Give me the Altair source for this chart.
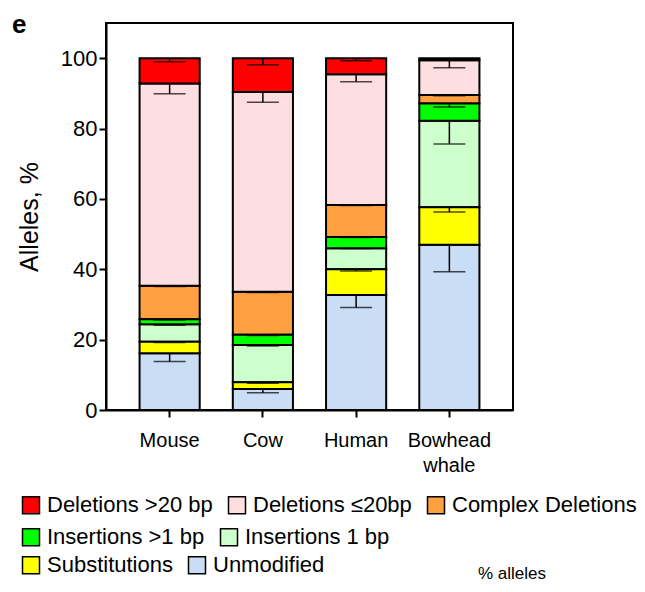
import altair as alt
import pandas as pd

species = ["Mouse", "Cow", "Human", "Bowhead whale"]

# categories from bottom of stack to top
categories = [
    "Unmodified",
    "Substitutions",
    "Insertions 1 bp",
    "Insertions >1 bp",
    "Complex Deletions",
    "Deletions ≤20bp",
    "Deletions >20 bp",
]

unmodified = [16.1, 6.0, 32.7, 47.0]
substitutions = [3.3, 1.9, 7.3, 10.6]
insertions_1bp = [5.0, 10.6, 6.0, 24.6]
insertions_gt1 = [1.4, 2.9, 3.2, 4.9]
complex_del = [9.5, 12.2, 9.1, 2.4]
deletions_le20 = [57.5, 56.8, 37.1, 9.9]
deletions_gt20 = [7.2, 9.6, 4.6, 0.6]

unmodified_err = [2.3, 1.1, 3.6, 7.7]
substitutions_err = [0.2, 0.3, 0.5, 1.3]
insertions_1bp_err = [0.3, 0.3, 0.1, 6.6]
insertions_gt1_err = [0.2, 0.2, 0.2, 1.0]
complex_del_err = [0.2, 0.2, 0.2, 0.2]
deletions_le20_err = [2.9, 2.9, 2.1, 2.1]
deletions_gt20_err = [1.0, 1.9, 0.7, 0.2]

values = [unmodified, substitutions, insertions_1bp, insertions_gt1,
          complex_del, deletions_le20, deletions_gt20]
errors = [unmodified_err, substitutions_err, insertions_1bp_err, insertions_gt1_err,
          complex_del_err, deletions_le20_err, deletions_gt20_err]

color_map = {
    "Deletions >20 bp": "#FF0000",
    "Deletions ≤20bp": "#FDDFE1",
    "Complex Deletions": "#FFA040",
    "Insertions >1 bp": "#00FF00",
    "Insertions 1 bp": "#CCFFCC",
    "Substitutions": "#FFFF00",
    "Unmodified": "#C9DDF5",
}

legend_rows = [
    ["Deletions >20 bp", "Deletions ≤20bp", "Complex Deletions"],
    ["Insertions >1 bp", "Insertions 1 bp"],
    ["Substitutions", "Unmodified"],
]

rows = []
for i, sp in enumerate(species):
    base = 0.0
    for cat, vals, errs in zip(categories, values, errors):
        top = base + vals[i]
        rows.append(dict(species=sp, category=cat, y0=base, y1=top, err_lo=top - errs[i]))
        base = top
df = pd.DataFrame(rows)

FONT = "Liberation Sans"

x_scale = alt.Scale(domain=species, paddingInner=0.355, paddingOuter=0.36)
y_scale = alt.Scale(domain=[0, 110], nice=False)

x_axis = alt.Axis(
    title=None, labelAngle=0, labelFontSize=20, labelColor="black",
    labelExpr="split(datum.label, ' ')", labelLineHeight=25,
    labelPadding=13, tickSize=7, tickWidth=2, tickColor="black",
    domainColor="black", domainWidth=2, labelFont=FONT,
)
y_axis = alt.Axis(
    title="Alleles, %", values=[0, 20, 40, 60, 80, 100], labelFontSize=22,
    labelColor="black", tickSize=7, tickWidth=2, tickColor="black",
    domainColor="black", domainWidth=2, grid=False, titleFontSize=25,
    titleFontWeight="normal", titleColor="black", titlePadding=18,
    labelFont=FONT, titleFont=FONT,
)

legend_pos = [(-86, 471), (-86, 503), (-86, 531)]

layers = []
for group, (lx, ly) in zip(legend_rows, legend_pos):
    cscale = alt.Scale(domain=group, range=[color_map[c] for c in group])
    layer = alt.Chart(df).transform_filter(
        alt.FieldOneOfPredicate(field="category", oneOf=group)
    ).mark_bar(stroke="black", strokeWidth=2, opacity=1).encode(
        x=alt.X("species:N", scale=x_scale, axis=x_axis, sort=species),
        y=alt.Y("y1:Q", scale=y_scale, axis=y_axis),
        y2="y0:Q",
        color=alt.Color(
            "category:N", scale=cscale,
            legend=alt.Legend(
                title=None, orient="none", legendX=lx, legendY=ly,
                direction="horizontal", columns=len(group),
                symbolType="square", symbolSize=289, symbolStrokeColor="black",
                symbolStrokeWidth=1.5, symbolOpacity=1, labelFontSize=22,
                labelFont=FONT, labelColor="black", labelOffset=5,
                columnPadding=12, padding=0, labelLimit=0,
            ),
        ),
    )
    layers.append(layer)

whiskers = alt.Chart(df).mark_rule(color="black", strokeWidth=1.5).encode(
    x=alt.X("species:N", scale=x_scale, sort=species),
    y=alt.Y("y1:Q", scale=y_scale),
    y2="err_lo:Q",
)
caps = alt.Chart(df).mark_tick(color="black", thickness=1.5, size=32).encode(
    x=alt.X("species:N", scale=x_scale, sort=species),
    y=alt.Y("err_lo:Q", scale=y_scale),
)

panel_label = alt.Chart(pd.DataFrame({"t": ["e"]})).mark_text(
    fontSize=26, fontWeight="bold", align="left", baseline="alphabetic",
    font=FONT, color="black",
).encode(text="t:N", x=alt.value(-94), y=alt.value(10))

footer = alt.Chart(pd.DataFrame({"t": ["% alleles"]})).mark_text(
    fontSize=17, align="center", baseline="bottom", font=FONT, color="black",
).encode(text="t:N", x=alt.value(406), y=alt.value(560))

chart = alt.layer(*layers, whiskers, caps, panel_label, footer).resolve_scale(
    color="independent"
).properties(
    width=407, height=387,
    padding={"left": 4, "top": 4, "right": 0, "bottom": 0},
).configure(
    font=FONT
).configure_view(
    stroke="black", strokeWidth=2
)

chart.save("out.html", embed_options={"renderer": "svg", "actions": False})
